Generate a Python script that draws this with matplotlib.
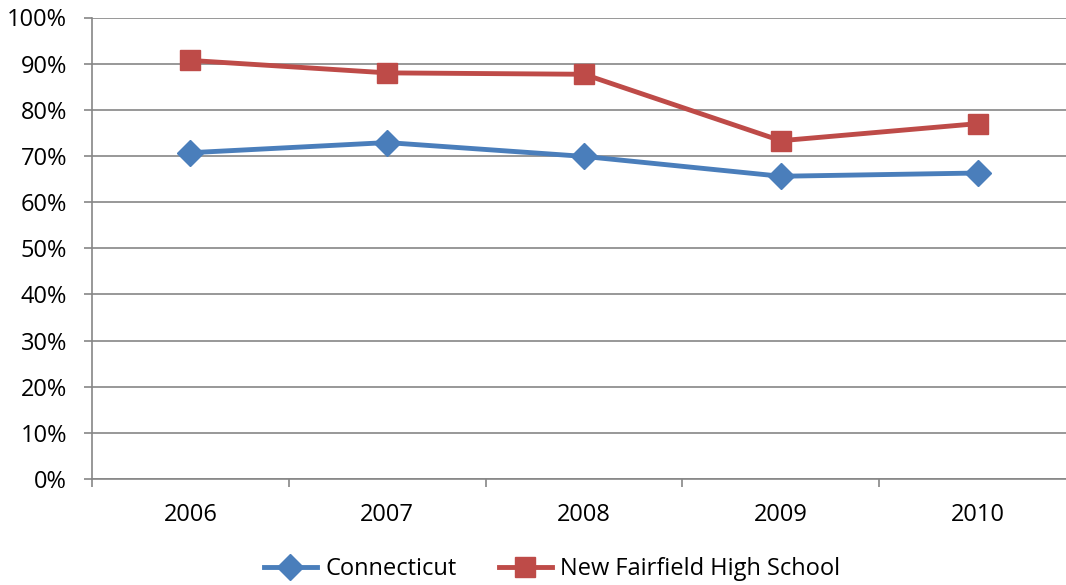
import matplotlib
matplotlib.use('Agg')
import matplotlib.pyplot as plt
from matplotlib.ticker import FixedLocator, PercentFormatter

years = ['2006', '2007', '2008', '2009', '2010']
connecticut = [70.7, 72.9, 69.9, 65.6, 66.3]
new_fairfield = [90.7, 88.0, 87.7, 73.3, 77.0]

plt.rcParams['font.family'] = ['Open Sans', 'DejaVu Sans']

fig = plt.figure(figsize=(10.66, 5.85), dpi=100)
# the plot area runs a little past the right edge of the picture
ax = fig.add_axes([92/1066, 1 - 479/585, (1076 - 92)/1066, (479 - 17.5)/585])

x = list(range(len(years)))
ax.plot(x, connecticut, color='#4A7EBB', lw=3.5, marker='D', ms=13,
        label='Connecticut', zorder=3, clip_on=False)
ax.plot(x, new_fairfield, color='#BE4B48', lw=3.5, marker='s', ms=14,
        label='New Fairfield High School', zorder=3, clip_on=False)

ax.set_xlim(-0.5, len(years) - 0.5)
ax.set_ylim(0, 100)
ax.set_yticks(range(0, 101, 10))
ax.yaxis.set_major_formatter(PercentFormatter(decimals=0))
ax.set_xticks(x)
ax.set_xticklabels(years)
ax.xaxis.set_minor_locator(FixedLocator([i - 0.5 for i in range(len(years) + 1)]))

ax.grid(axis='y', color='#868686', lw=1.2, zorder=0)
for s in ['top', 'right']:
    ax.spines[s].set_visible(False)
for s in ['left', 'bottom']:
    ax.spines[s].set_color('#868686')
    ax.spines[s].set_linewidth(1.2)

ax.tick_params(axis='y', length=6, width=1.2, color='#868686', pad=12, labelsize=17)
ax.tick_params(axis='x', which='major', length=0, pad=17, labelsize=17)
ax.tick_params(axis='x', which='minor', length=6, width=1.2, color='#868686')

fig.legend(loc='center', bbox_to_anchor=(552/1066, 1 - 569/585), ncol=2, frameon=False,
           fontsize=17, handlelength=2.25, handletextpad=0.35, columnspacing=1.8)

fig.savefig('out.png', dpi=100)
